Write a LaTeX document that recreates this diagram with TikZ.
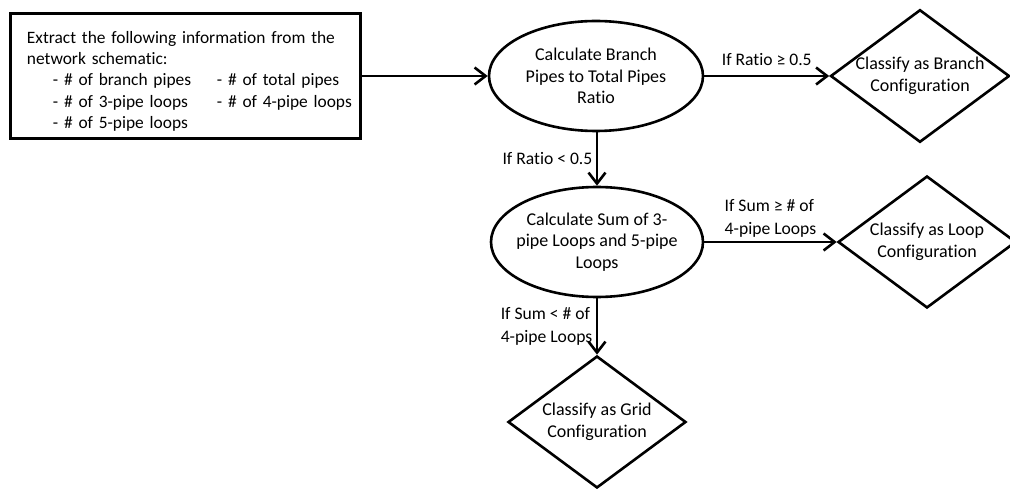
\documentclass[tikz,border=0pt]{standalone}
\usepackage{fontspec}
\setmainfont{Carlito}[Ligatures=NoCommon]
\usetikzlibrary{shapes.geometric, arrows.meta}

\begin{document}
\begin{tikzpicture}[x=1pt, y=-1pt, line width=2.6pt,
		every node/.style={font=\fontsize{18}{21.5}\selectfont},
		stepbox/.style={draw, rectangle, line width=3pt, text width=316pt, align=left,
			inner xsep=17pt, minimum height=122pt, font=\fontsize{17.4}{21.25}\selectfont},
		calcbox/.style={draw, ellipse, align=center, inner ysep=0pt, inner xsep=-10pt,
			minimum width=214pt, minimum height=110pt},
		classbox/.style={draw, diamond, align=center, inner sep=0pt, aspect=1.35,
			minimum width=178pt, minimum height=132pt},
		choice/.style={font=\fontsize{17.6}{23}\selectfont},
		arr/.style={-{Straight Barb[length=11pt, width=17pt, line width=2.6pt]}}]
		\useasboundingbox (0,0) rectangle (1010,489);

		% Draw the box with the list
		\node[stepbox] (extract) at (185,76) {%
			\begin{tabular}{@{}l@{}l@{}l@{}}
			\multicolumn{3}{@{}l@{}}{\rule{0pt}{26pt}Extract the following information from the}\\
			\multicolumn{3}{@{}l@{}}{network schematic:}\\
			\hspace*{26pt} & \makebox[164pt][l]{- \# of branch pipes} & - \# of total pipes\\
			& - \# of 3-pipe loops & - \# of 4-pipe loops\\
			& - \# of 5-pipe loops &
			\end{tabular}};

		% Draw the two calculations
		\node[calcbox] (ratio) at (596,76) {Calculate Branch\\Pipes to Total Pipes\\Ratio};
		\node[calcbox, minimum width=212pt] (sum) at (597,242) {Calculate Sum of 3-\\pipe Loops and 5-pipe\\Loops};

		% Draw the three results
		\node[classbox] (branch) at (920,76) {Classify as Branch\\Configuration};
		\node[classbox] (loop) at (927,242) {Classify as Loop\\Configuration};
		\node[classbox] (grid) at (597,422) {Classify as Grid\\Configuration};

		% Draw the arrows between them
		\draw[arr] (extract) -- (ratio);
		\draw[arr] (ratio.south -| sum) -- (sum) node[midway, left, choice] (ratiolow) {If Ratio < 0.5};
		\draw[arr] (ratio) -- (branch) node[midway, above=6pt, choice] (ratiohigh) {If Ratio ≥ 0.5};
		\draw[arr] (sum) -- (loop) node[midway, above, align=left, choice] (sumhigh) {If Sum ≥ \# of\\4-pipe Loops};
		\draw[arr] (sum) -- (grid) node[midway, left, align=left, choice] (sumlow) {If Sum < \# of\\4-pipe Loops};

	\end{tikzpicture}
\end{document}
